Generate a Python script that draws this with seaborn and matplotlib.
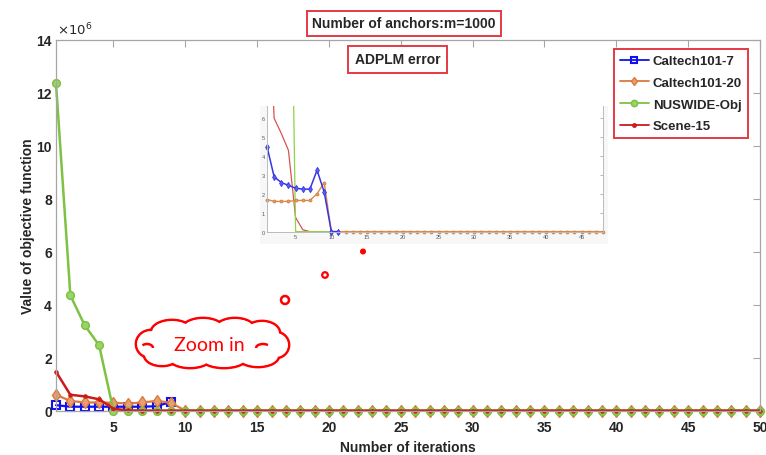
import numpy as np
import matplotlib
matplotlib.use("Agg")
import matplotlib.pyplot as plt
from matplotlib.patches import Ellipse, Circle, Rectangle, Arc
from matplotlib.lines import Line2D
import seaborn as sns

# ---------------- data (main plot, units of 1e6) ----------------
iterations = list(range(1, 51))
caltech7_iter = list(range(1, 10))
caltech7 = [0.21, 0.15, 0.15, 0.15, 0.15, 0.15, 0.15, 0.17, 0.33]
caltech20 = [0.60, 0.37, 0.31, 0.31, 0.30, 0.27, 0.31, 0.37, 0.30] + [0.0] * 41
nuswide = [12.35, 4.35, 3.22, 2.47, 0.0] + [0.0] * 45
scene15 = [1.47, 0.60, 0.54, 0.43, 0.075, 0.01] + [0.0] * 44

series_names = ["Caltech101-7", "Caltech101-20", "NUSWIDE-Obj", "Scene-15"]
x_ticks = [5, 10, 15, 20, 25, 30, 35, 40, 45, 50]
y_ticks = [0, 2, 4, 6, 8, 10, 12, 14]

# ---------------- data (zoomed inset, units of 1e5) ----------------
inset_iter = list(range(1, 49))
inset_caltech7_iter = list(range(1, 12))
inset_caltech7 = [4.5, 2.9, 2.6, 2.45, 2.3, 2.25, 2.25, 3.25, 2.1, 0.0, 0.0]
inset_caltech20 = [1.7, 1.6, 1.6, 1.6, 1.65, 1.65, 1.65, 2.0, 2.6] + [0.0] * 39
inset_nuswide = [123.5, 43.5, 32.2, 24.7, 0.0] + [0.0] * 43
inset_scene15 = [14.7, 6.0, 5.2, 4.3, 0.75, 0.1] + [0.0] * 42
inset_x_ticks = [5, 10, 15, 20, 25, 30, 35, 40, 45]
inset_y_ticks = [0, 1, 2, 3, 4, 5, 6]

title_text = "Number of anchors:m=1000"
subtitle_text = "ADPLM error"
cloud_text = "Zoom in"

# ---------------- style ----------------
sns.set_style("white")
plt.rcParams["font.family"] = ["Liberation Sans", "DejaVu Sans"]

C_BLUE = "#1010F0"
C_ORANGE = "#DA7A3C"
C_GREEN = "#7DC242"
C_RED = "#CC1A1A"
C_BOX = "#E23A44"
SPINE = "#A6A6A6"
TXT = "#262626"

W, H = 766, 456
fig = plt.figure(figsize=(W / 100, H / 100), dpi=100)
ax = fig.add_axes([56 / W, 1 - 411.7 / H, 704 / W, 371 / H])

styles = [
    dict(color=C_BLUE, lw=1.6, marker="s", markersize=5.5, markerfacecolor="none",
         markeredgecolor=C_BLUE, markeredgewidth=1.5),
    dict(color=C_ORANGE, lw=1.6, marker="d", markersize=6, markerfacecolor="#E9A070",
         markeredgecolor=C_ORANGE, markeredgewidth=1.0),
    dict(color=C_GREEN, lw=1.8, marker="o", markersize=5.5, markerfacecolor="#9BD36A",
         markeredgecolor=C_GREEN, markeredgewidth=1.1),
    dict(color=C_RED, lw=1.8, marker=".", markersize=5, markeredgecolor=C_RED),
]

sns.lineplot(x=caltech7_iter, y=caltech7, ax=ax, clip_on=False, **styles[0])
sns.lineplot(x=iterations, y=caltech20, ax=ax, clip_on=False, **styles[1])
sns.lineplot(x=iterations, y=nuswide, ax=ax, clip_on=False, **styles[2])
sns.lineplot(x=iterations, y=scene15, ax=ax, clip_on=False, **styles[3])

ax.set_xlim(1, 50)
ax.set_ylim(0, 14)
ax.set_xticks(x_ticks)
ax.set_yticks(y_ticks)
ax.set_xticklabels([str(t) for t in x_ticks])
ax.set_yticklabels([str(t) for t in y_ticks])
ax.tick_params(direction="in", length=5, width=0.8, color=SPINE,
               top=True, right=True, labelsize=10, labelcolor=TXT)
ax.tick_params(axis="x", pad=7)
ax.tick_params(axis="y", pad=3)
for lab in ax.get_xticklabels() + ax.get_yticklabels():
    lab.set_fontweight("bold")
for s in ax.spines.values():
    s.set_color(SPINE)
    s.set_linewidth(0.9)
    s.set_visible(True)

ax.set_xlabel("Number of iterations", fontsize=10, fontweight="bold", color=TXT, labelpad=4)
ax.set_ylabel("Value of objective function", fontsize=10, fontweight="bold", color=TXT, labelpad=1)
ax.text(0.002, 1.006, r"$\times10^{6}$", transform=ax.transAxes, fontsize=9.5,
        color=TXT, ha="left", va="bottom")

leg_handles = []
for st in styles:
    st2 = dict(st)
    if st2["marker"] != ".":
        st2["markersize"] = 4.5
    st2["lw"] = 1.3
    leg_handles.append(Line2D([], [], **st2))
leg = ax.legend(leg_handles, series_names, loc="upper right",
                bbox_to_anchor=(748 / W, 1 - 50 / H), bbox_transform=fig.transFigure,
                frameon=True, fancybox=False, edgecolor=C_BOX, framealpha=1,
                prop={"weight": "bold", "size": 9.5}, handlelength=2.2,
                labelspacing=0.72, borderpad=0.45, handletextpad=0.3,
                borderaxespad=0)
leg.get_frame().set_linewidth(1.4)
for t in leg.get_texts():
    t.set_color(TXT)

# faint background of pasted inset picture
ax.add_patch(Rectangle((260 / W, 1 - 245 / H), 348 / W, 138 / H,
                       transform=fig.transFigure, facecolor="#F7F7F7",
                       edgecolor="none", zorder=8))

# ---------------- inset ----------------
ins = fig.add_axes([267 / W, 1 - 233 / H, 336 / W, 126 / H], zorder=5)
ins.set_facecolor("white")
sns.lineplot(x=inset_iter, y=inset_scene15, ax=ins, color="#D9534F", lw=0.9)
sns.lineplot(x=inset_iter, y=inset_nuswide, ax=ins, color="#8BD34A", lw=0.9)
sns.lineplot(x=inset_iter, y=inset_caltech20, ax=ins, color="#E08A4A", lw=1.0,
             marker="o", markersize=2.2, markerfacecolor="#E8A060",
             markeredgecolor="#C87A3A", markeredgewidth=0.5, clip_on=False)
sns.lineplot(x=inset_caltech7_iter, y=inset_caltech7, ax=ins, color="#3535E8", lw=1.1,
             marker="d", markersize=3.2, markerfacecolor="#6060F0",
             markeredgecolor="#3535E8", markeredgewidth=0.6, clip_on=False)
ins.set_xlim(1, 48)
ins.set_ylim(-0.02, 6.65)
ins.set_xticks(inset_x_ticks)
ins.set_yticks(inset_y_ticks)
ins.set_xticklabels([str(t) for t in inset_x_ticks])
ins.set_yticklabels([str(t) for t in inset_y_ticks])
ins.tick_params(direction="in", length=2, width=0.5, color="#999999",
                right=True, labelsize=4, labelcolor="#555555", pad=1.5)
ins.set_xlabel("")
ins.set_ylabel("")
for k, s in ins.spines.items():
    s.set_color("#BBBBBB")
    s.set_linewidth(0.7)
ins.spines["top"].set_visible(False)

# ---------------- overlay: boxes, cloud, dots ----------------
ov = fig.add_axes([0, 0, 1, 1], zorder=20)
ov.set_xlim(0, W)
ov.set_ylim(H, 0)
ov.axis("off")
ov.patch.set_alpha(0)

ov.text(404, 24.5, title_text, ha="center", va="center", fontsize=10,
        fontweight="bold", color=TXT,
        bbox=dict(boxstyle="square,pad=0.4", fc="white", ec=C_BOX, lw=1.4))
ov.text(397.5, 60.5, subtitle_text, ha="center", va="center", fontsize=10,
        fontweight="bold", color=TXT,
        bbox=dict(boxstyle="square,pad=0.5", fc="white", ec=C_BOX, lw=1.4))

bumps = [(151, 345, 30, 28), (172, 333, 42, 24), (203, 330, 42, 22),
         (235, 330, 40, 22), (262, 334, 36, 24), (276, 346, 26, 26),
         (258, 357, 42, 22), (224, 359, 46, 20), (190, 358, 44, 22),
         (162, 356, 36, 22)]
for (cx, cy, w, h) in bumps:
    ov.add_patch(Ellipse((cx, cy), w, h, facecolor="none", edgecolor="#FF0000", lw=2.0))
for (cx, cy, w, h) in bumps:
    ov.add_patch(Ellipse((cx, cy), w - 2.2, h - 2.2, facecolor="white", edgecolor="none"))
ov.add_patch(Ellipse((212, 345), 122, 30, facecolor="white", edgecolor="none"))
ov.add_patch(Arc((263, 349), 14, 8, theta1=180, theta2=330, color="#FF0000", lw=1.8))
ov.add_patch(Arc((147, 349), 12, 8, theta1=210, theta2=360, color="#FF0000", lw=1.8))
ov.text(209, 346, cloud_text, ha="center", va="center", fontsize=14,
        color="#FF0000", family=["Lato", "DejaVu Sans"])

ov.add_patch(Circle((285, 301), 4.0, facecolor="white", edgecolor="#FF0000", lw=1.8))
ov.add_patch(Circle((325, 276), 2.8, facecolor="white", edgecolor="#FF0000", lw=1.6))
ov.add_patch(Circle((363, 252.5), 2.3, facecolor="#FF0000", edgecolor="#FF0000", lw=1))

fig.savefig("out.png", dpi=100)
